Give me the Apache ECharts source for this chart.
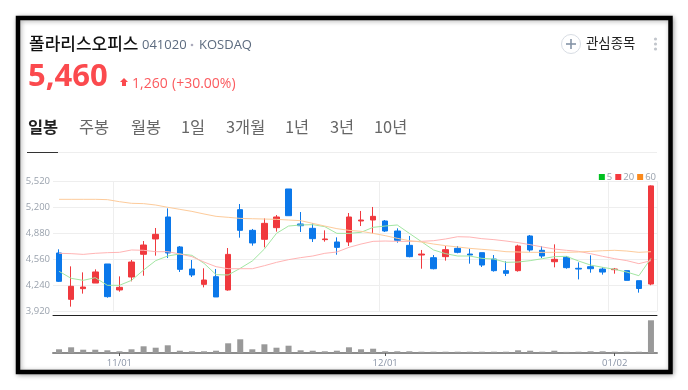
<!DOCTYPE html>
<html>
<head>
<meta charset="utf-8">
<script src="https://cdn.jsdelivr.net/npm/echarts@6/dist/echarts.min.js"></script>
<style>
  html, body { margin: 0; padding: 0; background: #fff; }
  #chart { width: 688px; height: 390px; }
</style>
</head>
<body>
<div id="chart"></div>
<script>
var dates = ['10/25','10/26','10/27','10/30','10/31',
  '11/01','11/02','11/03','11/06','11/07','11/08','11/09','11/10','11/13','11/14','11/15','11/16','11/17',
  '11/20','11/21','11/22','11/23','11/24','11/27','11/28','11/29','11/30',
  '12/01','12/04','12/05','12/06','12/07','12/08','12/11','12/12','12/13','12/14','12/15',
  '12/18','12/19','12/20','12/21','12/22','12/26','12/27','12/28',
  '01/02','01/03','01/04','01/05'];
var labelDates = ['11/01', '12/01', '01/02'];
var priceTicks = [3920, 5520, 320];

var opens = [4636,4067,4198,4267,4501,4182,4341,4620,4808,5078,4710,4439,4251,4345,4182,5168,4914,4804,4947,5422,4992,4939,4800,4771,4771,5029,5041,5029,4906,4730,4611,4578,4591,4693,4623,4640,4562,4419,4419,4845,4669,4529,4583,4448,4468,4439,4431,4419,4296,4255];
var closes = [4288,4227,4218,4403,4100,4214,4525,4734,4865,4636,4435,4366,4304,4096,4619,4914,4759,5000,5078,5094,4971,4812,4808,4705,5078,5041,5086,4906,4791,4591,4623,4443,4677,4644,4611,4488,4419,4386,4722,4673,4599,4558,4456,4439,4443,4402,4439,4300,4200,5460];
var lows = [4280,3977,4137,4267,4087,4161,4288,4357,4603,4574,4403,4341,4214,4096,4173,4824,4726,4705,4898,5094,4894,4771,4775,4615,4722,4967,4877,4894,4763,4583,4443,4435,4542,4632,4505,4464,4407,4353,4407,4652,4574,4460,4443,4312,4394,4370,4382,4300,4149,4240];
var highs = [4681,4472,4398,4435,4501,4349,4550,4783,4943,5184,4722,4550,4448,4439,4697,5237,4931,5061,5102,5422,5139,5000,4914,4828,5127,5152,5201,5041,4939,4845,4673,4611,4722,4722,4689,4640,4611,4534,4738,4857,4722,4742,4599,4521,4607,4460,4452,4419,4296,5467];

var ma5 = [4411,4325,4300,4333,4239,4239,4300,4427,4542,4599,4624,4607,4509,4370,4366,4448,4538,4685,4877,4967,4980,4984,4959,4877,4877,4890,4951,4967,4980,4877,4775,4673,4628,4599,4599,4570,4562,4521,4525,4542,4566,4591,4595,4538,4488,4460,4435,4402,4357,4570];
var ma20 = [4632,4628,4619,4632,4640,4644,4673,4669,4652,4652,4624,4591,4525,4468,4443,4443,4443,4480,4521,4554,4579,4599,4632,4648,4705,4746,4779,4783,4779,4779,4779,4787,4808,4836,4832,4812,4800,4783,4763,4738,4710,4685,4669,4656,4628,4595,4566,4542,4505,4542];
var ma60 = [5295,5295,5295,5295,5291,5266,5246,5242,5225,5197,5172,5147,5115,5086,5074,5061,5057,5053,5049,5041,5033,5000,4967,4935,4914,4902,4877,4849,4816,4787,4771,4746,4726,4710,4693,4681,4669,4652,4648,4644,4644,4644,4644,4648,4656,4664,4669,4660,4644,4652];

// thousand shares
var volumes = [74,114,66,66,54,34,74,134,106,154,46,34,34,46,194,274,74,174,106,146,54,46,34,46,114,74,86,34,34,34,26,26,26,26,26,26,26,26,54,46,26,46,22,26,34,34,26,26,26,654];

var krFont = '"Noto Sans CJK KR", "Noto Sans", sans-serif';
var numFont = '"Open Sans", "Noto Sans", sans-serif';

function txt(x, y, text, size, color, weight, family, align) {
  return {
    type: 'text', x: x, y: y, silent: true,
    style: {
      text: text, fontSize: size, fill: color, fontWeight: weight || 'normal',
      fontFamily: family || krFont, textAlign: align || 'left', textVerticalAlign: 'middle'
    }
  };
}

function isLabelDate(i, v) {
  return labelDates.indexOf(v) >= 0;
}

var myChart = echarts.init(document.getElementById('chart'), null, { renderer: 'canvas' });

myChart.setOption({
  animation: false,
  backgroundColor: '#fff',
  textStyle: { fontFamily: numFont },
  legend: {
    right: 27, top: 167,
    icon: 'rect', itemWidth: 6, itemHeight: 6, itemGap: 3,
    textStyle: { fontSize: 9.5, color: '#9aa2ad', padding: [0, 0, 0, -3] },
    selectedMode: false,
    data: [
      { name: '5', itemStyle: { color: '#00c020' } },
      { name: '20', itemStyle: { color: '#f5393f' } },
      { name: '60', itemStyle: { color: '#fb8a1c' } }
    ]
  },
  grid: [
    { left: 53, width: 604, top: 181, height: 130.3 },
    { left: 53, width: 604, top: 316, height: 37 }
  ],
  xAxis: [
    {
      type: 'category', gridIndex: 0, data: dates, offset: 4,
      boundaryGap: true,
      axisLine: { lineStyle: { color: '#222', width: 1 } },
      axisTick: { show: false },
      axisLabel: { show: false },
      splitLine: { show: true, interval: isLabelDate, lineStyle: { color: '#eee', width: 1 } }
    },
    {
      type: 'category', gridIndex: 1, data: dates,
      axisLine: { lineStyle: { color: '#8c8c8c', width: 2 } },
      axisTick: { show: true, alignWithLabel: true, interval: isLabelDate, length: 3, lineStyle: { color: '#555' } },
      axisLabel: { interval: isLabelDate, fontSize: 9.5, color: '#8a94a6', margin: 5, hideOverlap: false },
      splitLine: { show: false }
    }
  ],
  yAxis: [
    {
      type: 'value', gridIndex: 0, position: 'left',
      min: priceTicks[0], max: priceTicks[1], interval: priceTicks[2],
      axisLine: { show: false }, axisTick: { show: false },
      axisLabel: {
        fontSize: 9.5, color: '#9aa2ad', margin: 3,
        formatter: function (v) { return v.toLocaleString('en-US'); }
      },
      splitLine: { lineStyle: { color: '#eee', width: 1 } }
    },
    {
      type: 'value', gridIndex: 1, min: 0, max: 740,
      axisLine: { show: false }, axisTick: { show: false },
      axisLabel: { show: false }, splitLine: { show: false }
    }
  ],
  series: [
    {
      type: 'candlestick', name: 'price', xAxisIndex: 0, yAxisIndex: 0,
      barWidth: 6,
      data: dates.map(function (d, i) { return [opens[i], closes[i], lows[i], highs[i]]; }),
      itemStyle: { color: '#f0393e', color0: '#0b78ea', borderColor: '#f0393e', borderColor0: '#0b78ea', borderWidth: 1 },
      z: 3
    },
    {
      type: 'line', name: '5', xAxisIndex: 0, yAxisIndex: 0, data: ma5, showSymbol: false, symbol: 'none',
      lineStyle: { color: '#a2e6a2', width: 1 }, itemStyle: { color: '#00c020' }, z: 4
    },
    {
      type: 'line', name: '20', xAxisIndex: 0, yAxisIndex: 0, data: ma20, showSymbol: false, symbol: 'none',
      lineStyle: { color: '#ffb4b4', width: 1 }, itemStyle: { color: '#f5393f' }, z: 4
    },
    {
      type: 'line', name: '60', xAxisIndex: 0, yAxisIndex: 0, data: ma60, showSymbol: false, symbol: 'none',
      lineStyle: { color: '#fdcb9b', width: 1 }, itemStyle: { color: '#fb8a1c' }, z: 4
    },
    {
      type: 'bar', name: 'volume', xAxisIndex: 1, yAxisIndex: 1, data: volumes, barWidth: 6,
      itemStyle: { color: '#999' }
    }
  ],
  graphic: [
    // card frame
    {
      type: 'rect', silent: true, z: -1,
      shape: { x: 18, y: 18, width: 652.5, height: 354 },
      style: { fill: '#fff', stroke: '#000', lineWidth: 4.5, shadowBlur: 5, shadowColor: 'rgba(0,0,0,0.3)', shadowOffsetX: 1, shadowOffsetY: 1 }
    },
    // header
    txt(29, 44, '폴라리스오피스', 17, '#111', 500),
    txt(142, 45, '041020', 13, '#5c6b7f', 'normal', numFont),
    { type: 'circle', silent: true, shape: { cx: 192, cy: 45, r: 1.3 }, style: { fill: '#aab' } },
    txt(199, 45, 'KOSDAQ', 13, '#5c6b7f', 'normal', numFont),
    txt(28, 77, '5,460', 31, '#fb4a4e', 700, numFont),
    {
      type: 'polygon', silent: true,
      shape: { points: [[124, 78], [128, 82], [126, 82], [126, 86], [122, 86], [122, 82], [120, 82]] },
      style: { fill: '#fb4a4e' }
    },
    txt(132, 84, '1,260', 14, '#fb5a5e', 'normal', numFont),
    txt(172, 84, '(+30.00%)', 14, '#fb5a5e', 'normal', numFont),
    // watch button
    { type: 'circle', silent: true, shape: { cx: 571, cy: 44, r: 9.5 }, style: { fill: '#fff', stroke: '#d8dde4', lineWidth: 1 } },
    { type: 'line', silent: true, shape: { x1: 566, y1: 44, x2: 576, y2: 44 }, style: { stroke: '#8593a6', lineWidth: 1.6 } },
    { type: 'line', silent: true, shape: { x1: 571, y1: 39, x2: 571, y2: 49 }, style: { stroke: '#8593a6', lineWidth: 1.6 } },
    txt(586, 43, '관심종목', 13.4, '#222'),
    { type: 'circle', silent: true, shape: { cx: 655.5, cy: 39, r: 1.6 }, style: { fill: '#c2c6cc' } },
    { type: 'circle', silent: true, shape: { cx: 655.5, cy: 44, r: 1.6 }, style: { fill: '#c2c6cc' } },
    { type: 'circle', silent: true, shape: { cx: 655.5, cy: 49, r: 1.6 }, style: { fill: '#c2c6cc' } },
    // period tabs
    txt(28, 127, '일봉', 16.4, '#222', 700),
    txt(79, 127, '주봉', 16.4, '#666'),
    txt(131, 127, '월봉', 16.4, '#666'),
    txt(181, 127, '1일', 16.4, '#666'),
    txt(226, 127, '3개월', 16.4, '#666'),
    txt(285, 127, '1년', 16.4, '#666'),
    txt(330, 127, '3년', 16.4, '#666'),
    txt(374, 127, '10년', 16.4, '#666'),
    { type: 'line', silent: true, shape: { x1: 27, y1: 152.5, x2: 657, y2: 152.5 }, style: { stroke: '#eee', lineWidth: 1 } },
    { type: 'line', silent: true, shape: { x1: 27, y1: 152.5, x2: 58, y2: 152.5 }, style: { stroke: '#333', lineWidth: 1 } }
  ]
});
</script>
</body>
</html>
